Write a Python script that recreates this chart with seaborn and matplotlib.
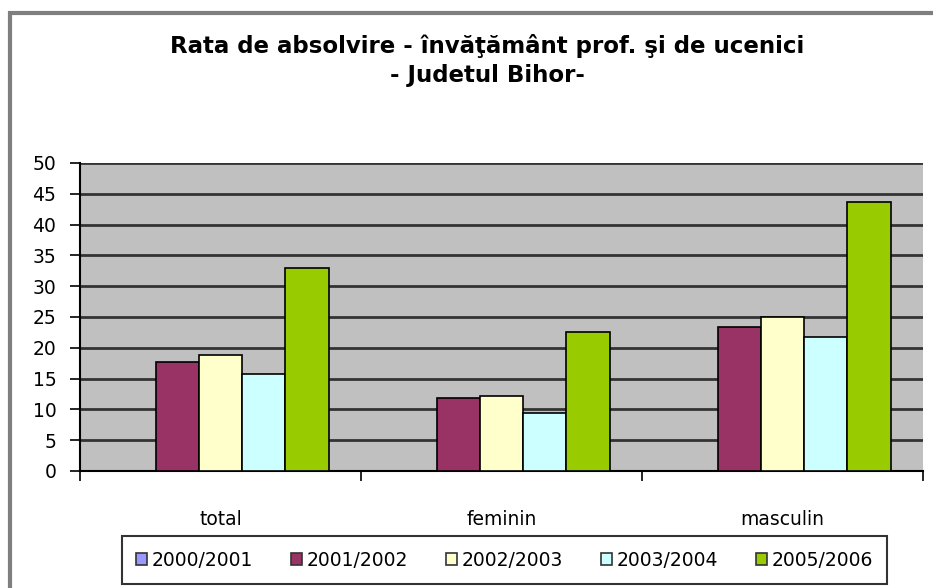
import numpy as np
import pandas as pd
import matplotlib.pyplot as plt
import matplotlib.patches as mpatches
import seaborn as sns

# data
categories = ["total", "feminin", "masculin"]
years = ["2000/2001", "2001/2002", "2002/2003", "2003/2004", "2005/2006"]
v_2000 = [np.nan, np.nan, np.nan]
v_2001 = [17.7, 11.8, 23.4]
v_2002 = [18.8, 12.2, 25.0]
v_2003 = [15.7, 9.4, 21.8]
v_2005 = [32.9, 22.5, 43.6]
colors = ["#9999FF", "#993366", "#FFFFCC", "#CCFFFF", "#99CC00"]

series = [v_2000, v_2001, v_2002, v_2003, v_2005]
df = pd.DataFrame({
    "categorie": categories * len(years),
    "an": [y for y in years for _ in categories],
    "rata": [v for s in series for v in s],
})

sns.set_style("white")
plt.rcParams["font.family"] = ["DejaVu Sans"]
plt.rcParams["text.color"] = "black"
plt.rcParams["xtick.color"] = "black"
plt.rcParams["ytick.color"] = "black"

fig = plt.figure(figsize=(9.33, 5.88), dpi=100)
ax = fig.add_axes([0.0857, 0.199, 0.9036, 0.5238])

sns.barplot(data=df, x="categorie", y="rata", hue="an", order=categories,
            hue_order=years, palette=colors, saturation=1, width=0.77, gap=0,
            edgecolor="black", linewidth=1.2, errorbar=None, legend=False,
            ax=ax, zorder=3)

ax.set_facecolor("#C0C0C0")
ax.set_ylim(0, 50)
ax.set_xlim(-0.5, 2.5)
ax.set_yticks(range(0, 51, 5))
ax.yaxis.grid(True, color="#333333", linewidth=2)
ax.set_axisbelow(True)
ax.set_xlabel("")
ax.set_ylabel("")

ax.set_xticks([-0.5, 0.5, 1.5, 2.5], minor=True)
ax.tick_params(axis="x", which="major", length=0, pad=28, labelsize=13.5)
ax.tick_params(axis="x", which="minor", length=7, width=1.2, direction="out",
               color="black", bottom=True)
ax.tick_params(axis="y", length=7, width=1.2, direction="out", color="black",
               left=True, labelsize=13.5, pad=10)

for side in ["top", "right"]:
    ax.spines[side].set_visible(False)
for side in ["left", "bottom"]:
    ax.spines[side].set_color("black")
    ax.spines[side].set_linewidth(1.5)

fig.text(0.522, 0.922, "Rata de absolvire - învăţământ prof. şi de ucenici",
         ha="center", va="center", fontsize=16.5, fontweight="bold")
fig.text(0.522, 0.872, "- Judetul Bihor-", ha="center", va="center",
         fontsize=16.5, fontweight="bold")

# outer chart frame
frame = mpatches.Rectangle((0.0107, -0.05), 1.1, 1.028, transform=fig.transFigure,
                           fill=False, edgecolor="#7F7F7F", linewidth=3)
fig.patches.append(frame)

handles = [mpatches.Patch(facecolor=c, edgecolor="#333333", linewidth=1.2, label=y)
           for c, y in zip(colors, years)]
leg = fig.legend(handles=handles, loc="center", bbox_to_anchor=(0.5407, 0.0476),
                 ncol=5, frameon=True, fancybox=False, edgecolor="black",
                 fontsize=13.5, handlelength=0.6, handleheight=0.6,
                 handletextpad=0.25, columnspacing=2.0, borderpad=0.75)
leg.get_frame().set_linewidth(1.5)

fig.savefig("out.png", dpi=100)
